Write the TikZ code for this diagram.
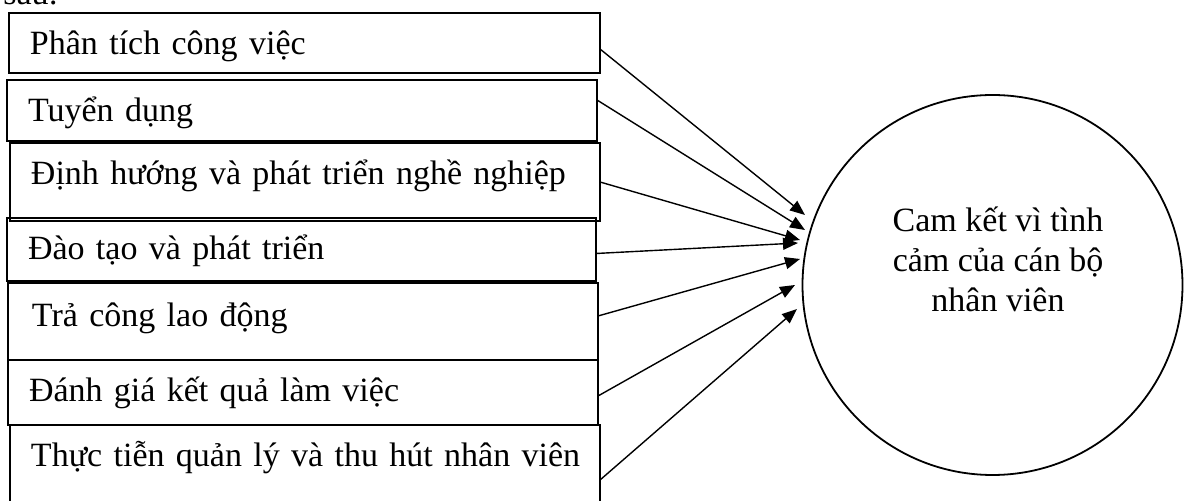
\documentclass[tikz,border=0pt]{standalone}
\usepackage{fontspec}
\setmainfont{Liberation Serif}
\usetikzlibrary{arrows.meta}

\tikzset{
  txt/.style={font=\fontsize{17pt}{20pt}\selectfont},
  cbox/.style={txt,draw,line width=1pt,outer sep=0pt,inner xsep=10.5pt,inner ysep=0pt,
               anchor=north west,align=left,text height=21pt},
  goalcirc/.style={draw,circle,line width=0.9pt,inner sep=0pt,minimum size=190pt},
  arr/.style={-{Triangle[length=7.5pt,width=6pt]},line width=0.7pt}
}

\begin{document}
\begin{tikzpicture}[x=0.5pt,y=-0.5pt]
    \useasboundingbox (0,0) rectangle (1184,501);
    \clip (0,0) rectangle (1184,501);

    % leftover line of the page above
    \node [txt,anchor=base west,inner sep=0pt] (sau) at (3,5) {sau:};

    % boxes
    \node [cbox,text width=274.5pt,text depth=9pt]  (p1) at (9,13)   {Phân tích công việc};
    \node [cbox,text width=274pt,text depth=9.5pt]  (p2) at (7,80)   {Tuyển dụng};
    \node [cbox,text width=274pt,text depth=18pt]   (p3) at (10,143) {\mbox{Định hướng và phát triển nghề nghiệp}};
    \node [cbox,text width=273.5pt,text depth=10.5pt] (p4) at (7,218) {Đào tạo và phát triển};
    \node [cbox,text width=271pt,text depth=16.5pt,text height=22pt,inner xsep=12pt] (p5) at (8,283) {Trả công lao động};
    \node [cbox,text width=274pt,text depth=11.5pt] (p6) at (8,360)  {Đánh giá kết quả làm việc};
    \node [cbox,text width=274pt,text depth=20pt]   (p7) at (10,425) {\mbox{Thực tiễn quản lý và thu hút nhân viên}};

    % circle
    \node [goalcirc] (goal) at (992.5,285) {};
    \node [txt,align=center,anchor=base] (goaltext) at (998,312) {Cam kết vì tình\\cảm của cán bộ\\nhân viên};

    % arrow ends
    \coordinate (t1) at (805,215);
    \coordinate (t2) at (805,230);
    \coordinate (t3) at (800,240);
    \coordinate (t4) at (798,243);
    \coordinate (t5) at (800,259);
    \coordinate (t6) at (795,285);
    \coordinate (t7) at (797,309);

    % arrows
    \draw[arr] ([yshift=-3pt]p1.east) -- (t1);
    \draw[arr] ([yshift=5.25pt]p2.east) -- (t2);
    \draw[arr] (p3.east) -- (t3);
    \draw[arr] ([yshift=-2pt]p4.east) -- (t4);
    \draw[arr] ([yshift=2.75pt]p5.east) -- (t5);
    \draw[arr] ([yshift=-1.75pt]p6.east) -- (t6);
    \draw[arr] ([yshift=-7pt]p7.east) -- (t7);

\end{tikzpicture}
\end{document}
